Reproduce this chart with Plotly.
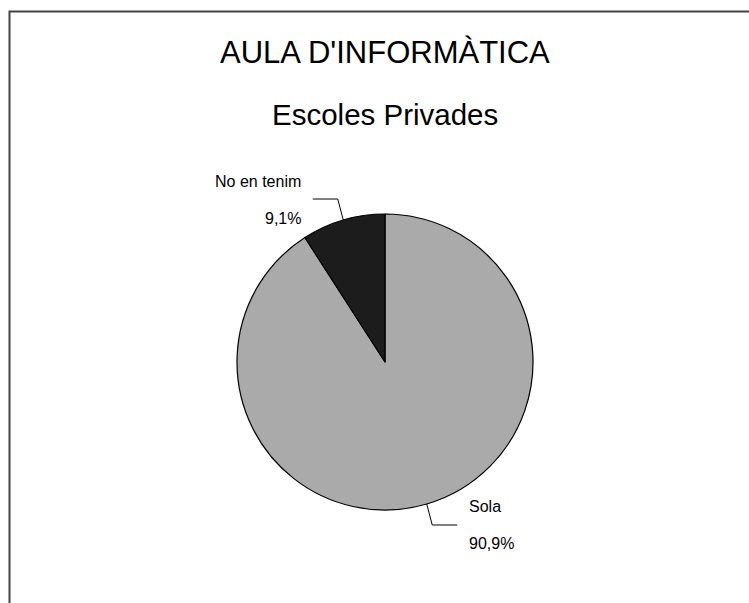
import math
import plotly.graph_objects as go

# Survey result: computer room in private schools
categories = ["No en tenim", "Sola"]
shares = [9.1, 90.9]
pct_labels = ["9,1%", "90,9%"]
slice_colors = ["#1c1c1c", "#aaaaaa"]

W, H = 749, 603
# pie placement in pixels (centre and radius)
CX, CY, R = 385, 362, 148

# drawn clockwise in reverse order so the first category sits just left of 12 o'clock
fig = go.Figure(go.Pie(
    labels=categories[::-1],
    values=shares[::-1],
    sort=False,
    direction="clockwise",
    rotation=0,
    textinfo="none",
    hoverinfo="label+percent",
    marker=dict(colors=slice_colors[::-1], line=dict(color="#000000", width=1.2)),
    domain=dict(x=[(CX - R) / W, (CX + R) / W],
                y=[(H - CY - R) / H, (H - CY + R) / H]),
    showlegend=False,
))


def px(x):
    return x / W


def py(y):
    return 1 - y / H


shapes = [
    # outer chart frame
    dict(type="rect", xref="paper", yref="paper",
         x0=px(9.5), x1=px(W + 20), y0=py(H + 20), y1=py(11.5),
         line=dict(color="#444444", width=2), fillcolor="rgba(0,0,0,0)"),
]
annotations = [
    dict(text="AULA D'INFORMÀTICA", x=px(385), y=py(52), xref="paper", yref="paper",
         showarrow=False, xanchor="center", yanchor="middle",
         font=dict(family="Liberation Sans, Arial", size=31, color="#000000")),
    dict(text="Escoles Privades", x=px(385), y=py(114), xref="paper", yref="paper",
         showarrow=False, xanchor="center", yanchor="middle",
         font=dict(family="Liberation Sans, Arial", size=29.5, color="#000000")),
]

total = sum(shares)
start = 0.0
for name, val, pct in zip(categories, shares, pct_labels):
    mid = start + val / 2
    start += val
    ang = 2 * math.pi * mid / total  # counterclockwise from 12 o'clock
    sx = -math.sin(ang)
    sy = -math.cos(ang)
    ex, ey = CX + R * sx, CY + R * sy
    side = 1 if sx > 0 else -1
    vdir = 1 if sy > 0 else -1
    kx, ky = ex + side * 5.5, ey + vdir * 21
    hx = kx + side * 25
    shapes.append(dict(type="path", xref="paper", yref="paper",
                       path=f"M {px(ex)} {py(ey)} L {px(kx)} {py(ky)} L {px(hx)} {py(ky)}",
                       line=dict(color="#000000", width=1)))
    tx = hx + side * 10
    anchor = "left" if side > 0 else "right"
    annotations.append(dict(text=name, x=px(tx), y=py(ky - 18), xref="paper", yref="paper",
                            showarrow=False, xanchor=anchor, yanchor="middle",
                            font=dict(family="Liberation Sans, Arial", size=16, color="#000000")))
    annotations.append(dict(text=pct, x=px(tx), y=py(ky + 19), xref="paper", yref="paper",
                            showarrow=False, xanchor=anchor, yanchor="middle",
                            font=dict(family="Liberation Sans, Arial", size=16, color="#000000")))

fig.update_layout(
    width=W, height=H,
    margin=dict(l=0, r=0, t=0, b=0),
    paper_bgcolor="#ffffff",
    plot_bgcolor="#ffffff",
    shapes=shapes,
    annotations=annotations,
)

fig.write_html("out.html")
